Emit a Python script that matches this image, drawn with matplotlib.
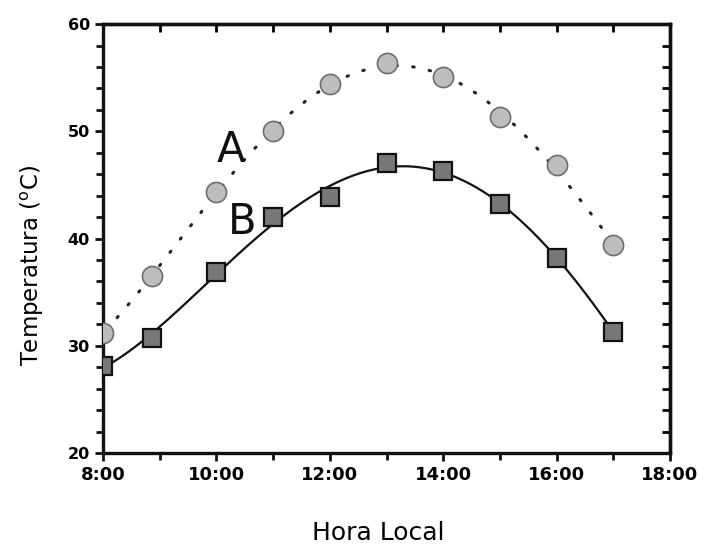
import numpy as np
import matplotlib
matplotlib.use("Agg")
import matplotlib.pyplot as plt
from matplotlib.ticker import MultipleLocator, FixedLocator

hours = [8.0, 8.86, 10.0, 11.0, 12.0, 13.0, 14.0, 15.0, 16.0, 17.0]
temp_A = [31.2, 36.5, 44.3, 50.0, 54.4, 56.4, 55.1, 51.3, 46.9, 39.4]
temp_B = [28.1, 30.7, 36.9, 42.0, 43.9, 47.0, 46.3, 43.2, 38.2, 31.3]
xtick_vals = [8, 10, 12, 14, 16, 18]
xtick_labels = ["8:00", "10:00", "12:00", "14:00", "16:00", "18:00"]

fig = plt.figure(figsize=(7.12, 5.48), dpi=100)
ax = fig.add_axes([0.1447, 0.1734, 0.941 - 0.1447, 0.956 - 0.1734])

xs = np.linspace(8.05, 17.0, 300)
fitA = np.poly1d(np.polyfit(hours, temp_A, 4))
fitB = np.poly1d(np.polyfit(hours, temp_B, 4))
ax.plot(xs, fitA(xs), color="#222222", lw=2.2, linestyle=(0, (0.5, 5)),
        dash_capstyle="round", zorder=2)
xb = np.linspace(8.0, 17.0, 300)
ax.plot(xb, fitB(xb), color="#111111", lw=1.6, zorder=2)

ax.plot(hours, temp_A, linestyle="none", marker="o", ms=14.5,
        mfc="#bdbdbd", mec="#6e6e6e", mew=1.2, zorder=3)
ax.plot(hours, temp_B, linestyle="none", marker="s", ms=12.5,
        mfc="#787878", mec="#111111", mew=1.6, zorder=3)

ax.text(10.26, 48.3, "A", fontsize=30, ha="center", va="center", color="#111111")
ax.text(10.45, 41.5, "B", fontsize=30, ha="center", va="center", color="#111111")

ax.set_xlim(8, 18)
ax.set_ylim(20, 60)
ax.xaxis.set_major_locator(FixedLocator(xtick_vals))
ax.set_xticklabels(xtick_labels)
ax.xaxis.set_minor_locator(MultipleLocator(1))
ax.yaxis.set_major_locator(MultipleLocator(10))
ax.yaxis.set_minor_locator(MultipleLocator(2))

for sp in ax.spines.values():
    sp.set_linewidth(2.4)
    sp.set_color("#111111")

ax.tick_params(which="both", direction="out", width=2.0, color="#111111",
               top=False, right=False)
ax.tick_params(axis="x", labelsize=13)
ax.tick_params(axis="y", labelsize=11.5)
ax.tick_params(which="major", length=6)
ax.tick_params(which="minor", length=5)
for lab in ax.get_xticklabels() + ax.get_yticklabels():
    lab.set_fontweight("bold")

secx = ax.secondary_xaxis("top")
secx.xaxis.set_major_locator(MultipleLocator(1))
secx.tick_params(direction="in", length=6, width=2.0, labeltop=False)
secx.spines["top"].set_linewidth(2.4)
secy = ax.secondary_yaxis("right")
secy.yaxis.set_major_locator(MultipleLocator(2))
secy.tick_params(direction="in", length=6, width=2.0, labelright=False)
secy.spines["right"].set_linewidth(2.4)

ax.set_xlabel("Hora Local", fontsize=18)
ax.xaxis.set_label_coords(0.485, -0.158)
ax.set_ylabel(r"Temperatura ($^{\mathrm{o}}$C)", fontsize=16.5)
ax.yaxis.set_label_coords(-0.1, 0.438)

fig.savefig("out.png", dpi=100)
